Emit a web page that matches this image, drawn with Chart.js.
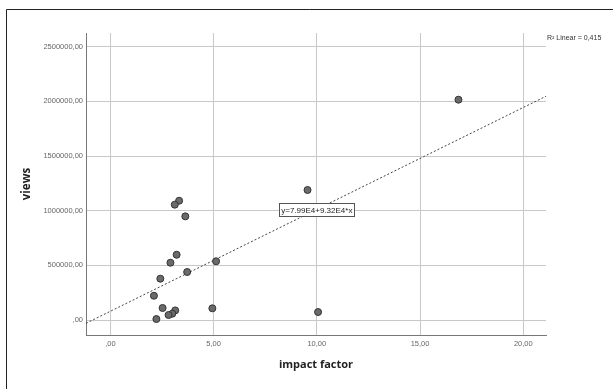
<!DOCTYPE html>
<html>
<head>
<meta charset="utf-8">
<script src="https://cdn.jsdelivr.net/npm/chart.js@4/dist/chart.umd.min.js"></script>
<style>
  html, body { margin: 0; padding: 0; background: #fff; }
  canvas { display: block; }
</style>
</head>
<body>
<canvas id="scatterChart" width="613" height="389"></canvas>
<script>
// impact factor vs views
const impactFactor = [16.86, 9.55, 3.33, 3.12, 3.63, 10.06, 5.12, 3.21, 2.91, 3.72, 2.42, 2.11, 2.53, 3.14, 3.0, 2.82, 2.23, 4.94];
const views = [2015000, 1189000, 1091000, 1055000, 948000, 73000, 537000, 597000, 524000, 439000, 378000, 222000, 110000, 88000, 58000, 46000, 9000, 107000];

const fitIntercept = 79900;
const fitSlope = 93200;
const fitLabel = 'y=7.99E4+9.32E4*x';
const r2Label = 'R\u00b2 Linear = 0,415';

const xTickValues = [0, 5, 10, 15, 20];
const xTickLabels = [',00', '5,00', '10,00', '15,00', '20,00'];
const yTickValues = [0, 500000, 1000000, 1500000, 2000000, 2500000];
const yTickLabels = [',00', '500000,00', '1000000,00', '1500000,00', '2000000,00', '2500000,00'];

const xMin = -1.18, xMax = 21.1;
const yMin = -137000, yMax = 2625000;

const points = impactFactor.map((x, i) => ({ x: x, y: views[i] }));
const fitLine = [xMin, xMax].map(x => ({ x: x, y: fitIntercept + fitSlope * x }));

// extra text / frame drawn on top
const extras = {
    id: 'extras',
    afterDraw(chart) {
        const ctx = chart.ctx;
        const area = chart.chartArea;
        const xs = chart.scales.x, ys = chart.scales.y;
        ctx.save();
        // outer frame (left + top only)
        ctx.strokeStyle = '#222';
        ctx.lineWidth = 1;
        ctx.beginPath();
        ctx.moveTo(6.5, 389);
        ctx.lineTo(6.5, 9.5);
        ctx.lineTo(613, 9.5);
        ctx.stroke();

        // R² text
        ctx.fillStyle = '#333';
        ctx.font = '7px "Liberation Sans", Arial, sans-serif';
        ctx.textAlign = 'left';
        ctx.textBaseline = 'middle';
        ctx.fillText(r2Label, area.right + 1, 38);

        // equation box
        const cx = xs.getPixelForValue(10);
        const cy = ys.getPixelForValue(1010000);
        ctx.font = '8px "Liberation Sans", Arial, sans-serif';
        const w = ctx.measureText(fitLabel).width + 4;
        const h = 13;
        ctx.fillStyle = '#fff';
        ctx.fillRect(cx - w / 2, cy - h / 2, w, h);
        ctx.strokeStyle = '#555';
        ctx.strokeRect(Math.round(cx - w / 2) + 0.5, Math.round(cy - h / 2) + 0.5, Math.round(w), h);
        ctx.fillStyle = '#222';
        ctx.textAlign = 'center';
        ctx.fillText(fitLabel, cx, cy + 1);
        ctx.restore();
    }
};

new Chart(document.getElementById('scatterChart').getContext('2d'), {
    type: 'scatter',
    data: {
        datasets: [{
            label: 'views',
            data: points,
            backgroundColor: '#6a6a6a',
            borderColor: '#333',
            borderWidth: 1,
            pointRadius: 3.5,
            order: 1
        }, {
            type: 'line',
            label: 'fit',
            data: fitLine,
            borderColor: '#444',
            borderWidth: 1,
            borderDash: [2, 2],
            pointRadius: 0,
            fill: false,
            order: 2
        }]
    },
    options: {
        responsive: false,
        animation: false,
        layout: { padding: { left: 0, right: 67, top: 33, bottom: 0 } },
        plugins: {
            legend: { display: false },
            tooltip: { enabled: false }
        },
        scales: {
            x: {
                type: 'linear',
                min: xMin,
                max: xMax,
                afterBuildTicks: s => { s.ticks = xTickValues.map(v => ({ value: v })); },
                afterFit: s => { s.height = 54; },
                ticks: {
                    autoSkip: false,
                    maxRotation: 0,
                    padding: 4,
                    color: '#666',
                    font: { size: 7.5, family: '"Liberation Sans", Arial, sans-serif' },
                    callback: v => xTickLabels[xTickValues.indexOf(v)]
                },
                grid: { color: '#c8c8c8', drawTicks: false },
                border: { color: '#777', width: 1 },
                title: {
                    display: true,
                    text: 'impact factor',
                    color: '#222',
                    font: { size: 11, weight: 'bold', family: '"Open Sans", "Liberation Sans", sans-serif' },
                    padding: { top: 0, bottom: 18 }
                }
            },
            y: {
                type: 'linear',
                min: yMin,
                max: yMax,
                afterBuildTicks: s => { s.ticks = yTickValues.map(v => ({ value: v })); },
                afterFit: s => { s.width = 86; },
                ticks: {
                    autoSkip: false,
                    padding: 3,
                    color: '#666',
                    font: { size: 7.5, family: '"Liberation Sans", Arial, sans-serif' },
                    callback: v => yTickLabels[yTickValues.indexOf(v)]
                },
                grid: { color: '#c8c8c8', drawTicks: false },
                border: { color: '#777', width: 1 },
                title: {
                    display: true,
                    text: 'views',
                    color: '#222',
                    font: { size: 11.5, weight: 'bold', family: '"Open Sans", "Liberation Sans", sans-serif' },
                    padding: { top: 20, bottom: 0 }
                }
            }
        }
    },
    plugins: [extras]
});
</script>
</body>
</html>
